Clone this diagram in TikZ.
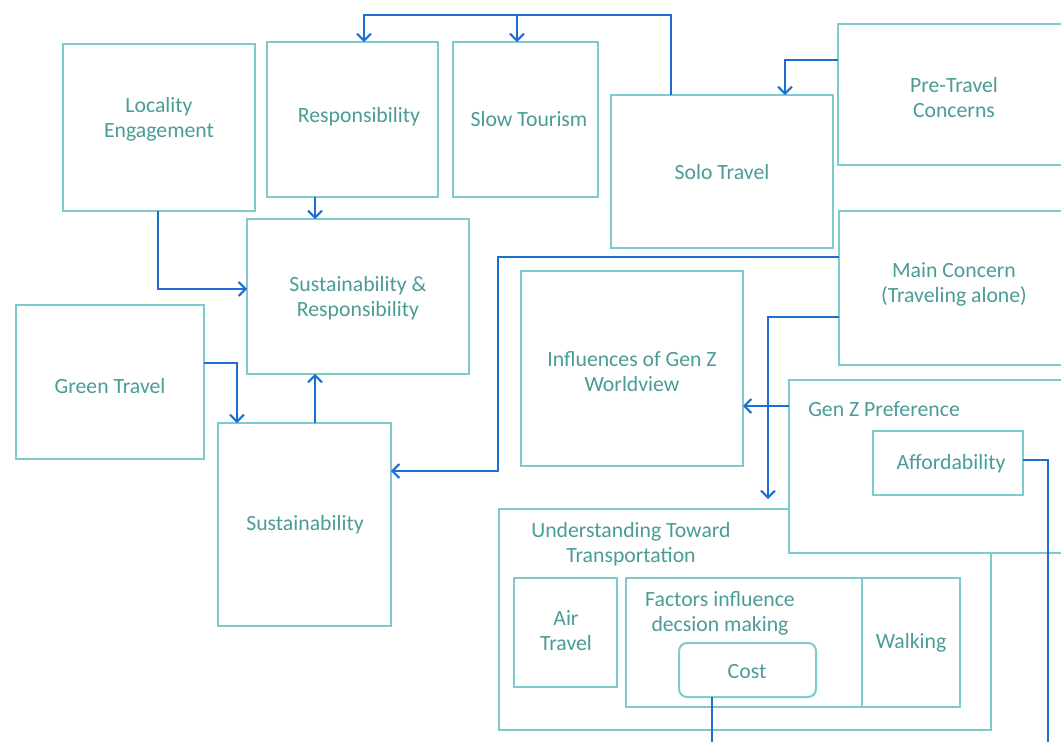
\documentclass[tikz,border=0pt]{standalone}
\usepackage{fontspec}
\setmainfont{Carlito}
\usetikzlibrary{arrows.meta,fit}
\definecolor{boxc}{RGB}{126,202,204}
\definecolor{txtc}{RGB}{74,156,151}
\definecolor{arrc}{RGB}{28,110,214}
\tikzset{
  box/.style={draw=boxc, line width=1.5pt, fill=white, inner sep=0pt, outer sep=0pt},
  txt/.style={text=txtc, align=center, inner sep=0pt, yshift=-1.5pt, font=\fontsize{16.3}{18.75}\selectfont},
  arr/.style={draw=arrc, line width=1.5pt, -{Straight Barb[length=5.2pt,width=10.5pt,line width=1.5pt]}},
  plain/.style={draw=arrc, line width=1.5pt},
}
\begin{document}
\begin{tikzpicture}[x=0.75pt,y=-0.75pt]
\useasboundingbox (0,0) rectangle (1061,742);
\clip (0,0) rectangle (1061,742);
\fill[white] (0,0) rectangle (1061,742);
% boxes
\node[box, fit={(63,44) (255,211)}] (loc) {};
\node[txt] (loc-t) at (159,117.5) {Locality\\Engagement};
\node[box, fit={(267,42) (438,197)}] (resp) {};
\node[txt] (resp-t) at (359,115) {Responsibility};
\node[box, fit={(453,42) (598,197)}] (slow) {};
\node[txt] (slow-t) at (529,117) {Slow Tourism};
\node[box, fit={(611,95) (833,248)}] (solo) {};
\node[txt] (solo-t) at (722,170) {Solo Travel};
\node[box, fit={(838,24) (1080,165)}] (pre) {};
\node[txt] (pre-t) at (954,96) {Pre-Travel\\Concerns};
\node[box, fit={(839,211) (1080,365)}] (main) {};
\node[txt] (main-t) at (954,282) {Main Concern\\(Traveling alone)};
\node[box, fit={(247,219) (469,374)}] (sr) {};
\node[txt] (sr-t) at (358,296) {Sustainability \&\\Responsibility};
\node[box, fit={(16,305) (204,459)}] (green) {};
\node[txt] (green-t) at (110,384) {Green Travel};
\node[box, fit={(218,423) (391,626)}] (sus) {};
\node[txt] (sus-t) at (305,523) {Sustainability};
\node[box, fit={(521,271) (743,466)}] (infl) {};
\node[txt] (infl-t) at (632,370) {Influences of Gen Z\\Worldview};
% understanding
\node[box, fit={(499,509) (991,730)}] (und) {};
\node[txt] (und-t) at (631,542) {Understanding Toward\\Transportation};
\node[box, fit={(514,578) (617,687)}] (air) {};
\node[txt] (air-t) at (566,629) {Air\\Travel};
\node[box, fit={(626,578) (862,707)}] (fac) {};
\node[txt] (fac-t) at (720,611) {Factors influence\\decsion making};
\node[box, fit={(862,578) (960,707)}] (walk) {};
\node[txt] (walk-t) at (911,641) {Walking};
\node[box, rounded corners=6pt, fit={(679,643) (816,697)}] (cost) {};
\node[txt] (cost-t) at (747,670) {Cost};
% gen z preference
\node[box, fit={(789,380) (1080,553)}] (genz) {};
\node[txt, anchor=west] (genz-t) at (808,407) {Gen Z Preference};
\node[box, fit={(873,431) (1023,495)}] (aff) {};
\node[txt] (aff-t) at (951,462) {Affordability};
% coordinates
\coordinate (topR) at (671,15);
\coordinate (topL) at (364,15);
\coordinate (topM) at (517,15);
\coordinate (pre1) at (785,60);
\coordinate (r3) at (315,200);
\coordinate (loc1) at (158,289);
\coordinate (g1) at (237,363);
\coordinate (s1) at (315,400);
\coordinate (m1) at (498,257);
\coordinate (m2) at (498,471);
\coordinate (m3) at (768,317);
\coordinate (m4) at (768,499);
\coordinate (gz1) at (770,406);
\coordinate (af1) at (1048,460);
\coordinate (af2) at (1048,742);
\coordinate (c1) at (712,742);
% connectors
\draw[arr] (topR |- solo.north) -- (topR) -- (topL) -- (topL |- resp.north);
\draw[arr] (topM) -- (topM |- slow.north);
\draw[arr] (pre.west |- pre1) -- (pre1) -- (pre1 |- solo.north);
\draw[arr] (r3 |- resp.south) -- (r3 |- sr.north);
\draw[arr] (loc1 |- loc.south) -- (loc1) -- (loc1 -| sr.west);
\draw[arr] (green.east |- g1) -- (g1) -- (g1 |- sus.north);
\draw[arr] (s1 |- sus.north) -- (s1 |- sr.south);
\draw[arr] (main.west |- m1) -- (m1) -- (m2) -- (m2 -| sus.east);
\draw[arr] (main.west |- m3) -- (m3) -- (m4);
\draw[arr] (genz.west |- gz1) -- (gz1 -| infl.east);
\draw[plain] (aff.east |- af1) -- (af1) -- (af2);
\draw[plain] (c1 |- cost.south) -- (c1);
\end{tikzpicture}
\end{document}
